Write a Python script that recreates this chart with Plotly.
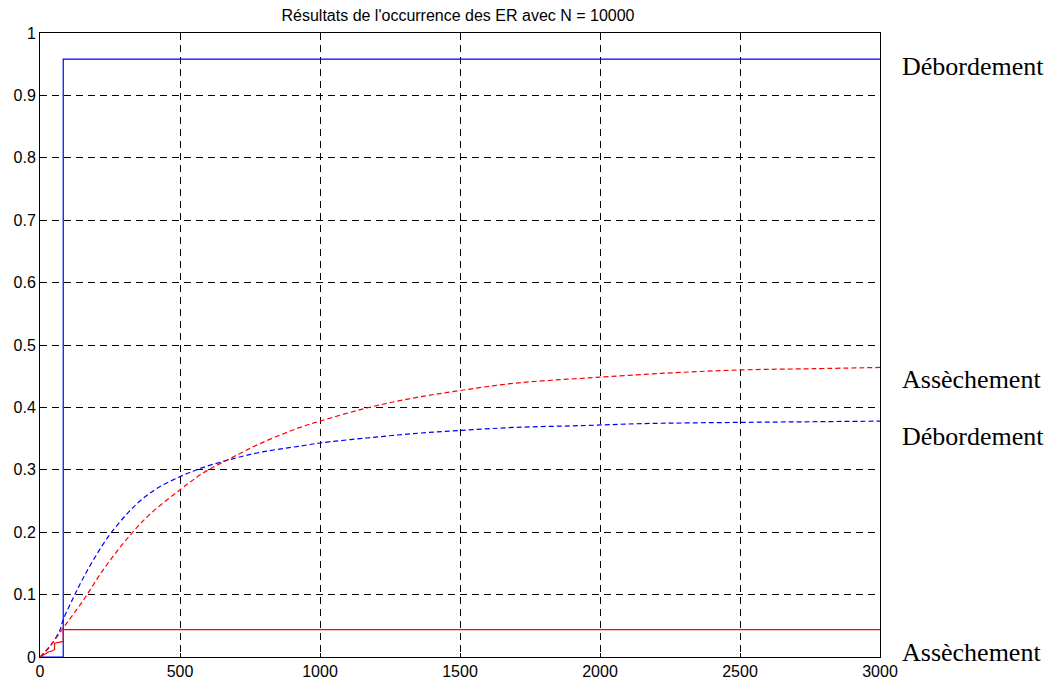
import plotly.graph_objects as go

# Solid lines (step)
blue_solid_x = [0, 83, 83, 3000]
blue_solid_y = [0.0, 0.0, 0.958, 0.958]
red_solid_x = [0, 15, 30, 45, 52, 52, 83, 83, 3000]
red_solid_y = [0.0, 0.004, 0.008, 0.010, 0.012, 0.022, 0.025, 0.044, 0.044]

# Dashed curves
blue_dash_x = [0, 36, 71, 83, 119, 149, 190, 244, 310, 357, 417, 500, 571, 667, 786, 929,
               1000, 1167, 1333, 1500, 1700, 1950, 2150, 2500, 2750, 3000]
blue_dash_y = [0.0, 0.017, 0.043, 0.060, 0.095, 0.122, 0.155, 0.193, 0.229, 0.250, 0.270, 0.289,
               0.302, 0.315, 0.328, 0.338, 0.343, 0.351, 0.358, 0.363, 0.368, 0.371, 0.374, 0.376,
               0.377, 0.378]
red_dash_x = [0, 40, 95, 155, 214, 274, 333, 393, 500, 583, 679, 786, 929, 1000, 1167, 1333,
              1500, 1700, 1950, 2240, 2500, 2760, 3000]
red_dash_y = [0.0, 0.020, 0.054, 0.091, 0.132, 0.169, 0.201, 0.229, 0.268, 0.295, 0.318, 0.342,
              0.368, 0.378, 0.399, 0.415, 0.427, 0.439, 0.447, 0.455, 0.460, 0.462, 0.464]

x_ticks = [0, 500, 1000, 1500, 2000, 2500, 3000]
y_ticks = [0, 0.1, 0.2, 0.3, 0.4, 0.5, 0.6, 0.7, 0.8, 0.9, 1]
y_tick_labels = ["0", "0.1", "0.2", "0.3", "0.4", "0.5", "0.6", "0.7", "0.8", "0.9", "1"]

labels = ["Débordement", "Assèchement", "Débordement", "Assèchement"]
label_y = [0.947, 0.445, 0.353, 0.008]

title = "Résultats de l'occurrence des ER avec N = 10000"

fig = go.Figure()
fig.add_trace(go.Scatter(x=blue_solid_x, y=blue_solid_y, mode="lines",
                         line=dict(color="#0000FF", width=1.2)))
fig.add_trace(go.Scatter(x=red_solid_x, y=red_solid_y, mode="lines",
                         line=dict(color="#FF0000", width=1.2)))
fig.add_trace(go.Scatter(x=blue_dash_x, y=blue_dash_y, mode="lines",
                         line=dict(color="#0000FF", width=1.2, dash="5px,3px", shape="spline")))
fig.add_trace(go.Scatter(x=red_dash_x, y=red_dash_y, mode="lines",
                         line=dict(color="#FF0000", width=1.2, dash="5px,3px", shape="spline")))

for t, yv in zip(labels, label_y):
    fig.add_annotation(text=t, x=(892 - 32) / 840, xref="paper", y=yv, yref="y",
                       xanchor="left", yanchor="middle", showarrow=False,
                       font=dict(family="Liberation Serif, Times New Roman, serif", size=26, color="black"))

axis_common = dict(showline=True, linecolor="black", linewidth=1, mirror=True,
                   showgrid=True, gridcolor="black", gridwidth=1, griddash="7px,5px",
                   zeroline=False, ticks="inside", ticklen=4, tickcolor="black",
                   automargin=False,
                   tickfont=dict(family="Liberation Sans, Arial, sans-serif", size=16, color="black"))

fig.update_layout(
    width=1052, height=673,
    margin=dict(l=32, r=180, t=25, b=24),
    paper_bgcolor="white", plot_bgcolor="white",
    showlegend=False,
    title=dict(text=title, x=450 / 1052, xanchor="center", y=1 - 2 / 673, yanchor="top",
               pad=dict(t=0, b=0, l=0, r=0),
               font=dict(family="Liberation Sans, Arial, sans-serif", size=16, color="black")),
    xaxis=dict(range=[0, 3000], tickvals=x_ticks, **axis_common),
    yaxis=dict(range=[0, 1], tickvals=y_ticks, ticktext=y_tick_labels, **axis_common),
)

fig.write_html("out.html")
